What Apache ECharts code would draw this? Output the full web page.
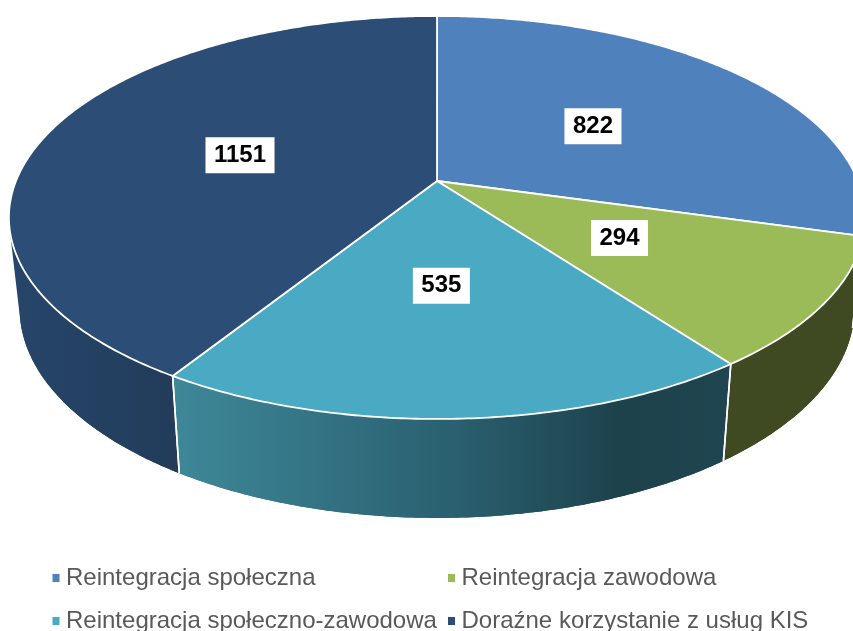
<!DOCTYPE html>
<html>
<head>
<meta charset="utf-8">
<style>html,body{margin:0;padding:0;background:#fff;overflow:hidden}#c{width:853px;height:631px}</style>
<script src="https://cdn.jsdelivr.net/npm/echarts@6/dist/echarts.min.js"></script>
</head>
<body>
<div id="c"></div>
<script>
const categories = ['Reintegracja społeczna', 'Reintegracja zawodowa', 'Reintegracja społeczno-zawodowa', 'Doraźne korzystanie z usług KIS'];
const values = [822, 294, 535, 1151];
const topColors = ['#4F81BD', '#9BBB59', '#4AA9C3', '#2C4D75'];
const wallStops = [
  [[0, '#2A4A70'], [1, '#2A4A70']],
  [[0, '#3F4A22'], [1, '#3F4A22']],
  [[0, '#3E8899'], [0.5, '#2A6070'], [0.8, '#1D424C'], [1, '#1F4550']],
  [[0, '#264569'], [1, '#223C5A']]
];
const wallRange = [[437, 866], [724, 853], [172, 733], [20, 178]];
const labelNudgeX = [0, 3.5, -4.5, -3.5];
const legendLeft = [52.5, 448, 52.5, 448];
const legendTop = [566, 566, 609, 609];

// perspective tilted-disc projection
const CX = 437, CY = 181, A = 421, B = 194.9, K = 0.181, SHRINK = 0.975, LABEL_R = 0.49;
const total = values.reduce((a, b) => a + b, 0);
const TAU = Math.PI * 2;
function proj(theta, r) {
  const u = r * Math.sin(theta), v = r * Math.cos(theta), w = 1 + K * v;
  return [CX + A * u / w, CY - B * v / w];
}
function low(p) { return [CX + (p[0] - CX) * SHRINK, p[1] + 97 + (p[1] - 370) * 0.04]; }
function arc(a0, a1) {
  const n = Math.max(2, Math.ceil((a1 - a0) / 0.01)), pts = [];
  for (let i = 0; i <= n; i++) pts.push(proj(a0 + (a1 - a0) * i / n, 1));
  return pts;
}
// keep only the part of a rim whose wall faces the viewer
function frontFacing(rim) {
  return rim.filter((p, i) => {
    const next = rim[Math.min(i + 1, rim.length - 1)], prev = rim[Math.max(i - 1, 0)];
    const d = low(p);
    return (next[0] - prev[0]) * (d[1] - p[1]) - (next[1] - prev[1]) * (d[0] - p[0]) < 0;
  });
}
function renderSlice(index) {
  return function (params, api) {
    const before = values.slice(0, index).reduce((a, b) => a + b, 0);
    const val = api.value(0);
    const a0 = before / total * TAU, a1 = (before + val) / total * TAU;
    const rim = arc(a0, a1);
    const front = frontFacing(rim);
    const mid = proj((a0 + a1) / 2, LABEL_R);
    const r = wallRange[index];
    const wallFill = new echarts.graphic.LinearGradient(r[0], 0, r[1], 0,
      wallStops[index].map(s => ({ offset: s[0], color: s[1] })), true);
    const band = pts => ({
      type: 'polygon', z2: 1, silent: true,
      shape: { points: pts.concat(pts.map(low).reverse()) },
      style: { fill: wallFill }
    });
    const edge = p => ({
      type: 'polyline', z2: 2, silent: true,
      shape: { points: [p, low(p)] },
      style: { stroke: '#fff', lineWidth: 1.6, fill: null }
    });
    const children = [band(rim)];
    if (front.length > 1) {
      children.push(band(front));
      if (front[0] === rim[0]) children.push(edge(rim[0]));
      if (front[front.length - 1] === rim[rim.length - 1]) children.push(edge(rim[rim.length - 1]));
    }
    children.push({
      type: 'polygon', z2: 3, silent: true,
      shape: { points: [[CX, CY]].concat(rim) },
      style: { fill: topColors[index], stroke: '#fff', lineWidth: 1.8, lineJoin: 'round' }
    }, {
      type: 'text', z2: 5, silent: true,
      x: mid[0] + labelNudgeX[index], y: mid[1],
      style: {
        text: String(val), fill: '#000', align: 'center', verticalAlign: 'middle',
        font: 'bold 24px "Liberation Sans", Arial, sans-serif',
        backgroundColor: '#fff', padding: [6, 8.5, 6, 8.5]
      }
    });
    return { type: 'group', children };
  };
}
const legendText = { color: '#595959', fontSize: 24, fontFamily: '"Liberation Sans", Arial, sans-serif', padding: [0, 0, 0, 1.5] };
const chart = echarts.init(document.getElementById('c'), null, { renderer: 'canvas' });
chart.setOption({
  animation: false,
  backgroundColor: '#fff',
  legend: categories.map((name, i) => ({
    left: legendLeft[i], top: legendTop[i], icon: 'rect', itemWidth: 7, itemHeight: 8,
    padding: 0, selectedMode: false, textStyle: legendText, data: [name]
  })),
  series: categories.map((name, i) => ({
    type: 'custom',
    name,
    coordinateSystem: 'none',
    clip: false,
    itemStyle: { color: topColors[i] },
    data: [[values[i]]],
    renderItem: renderSlice(i)
  }))
});
</script>
</body>
</html>
